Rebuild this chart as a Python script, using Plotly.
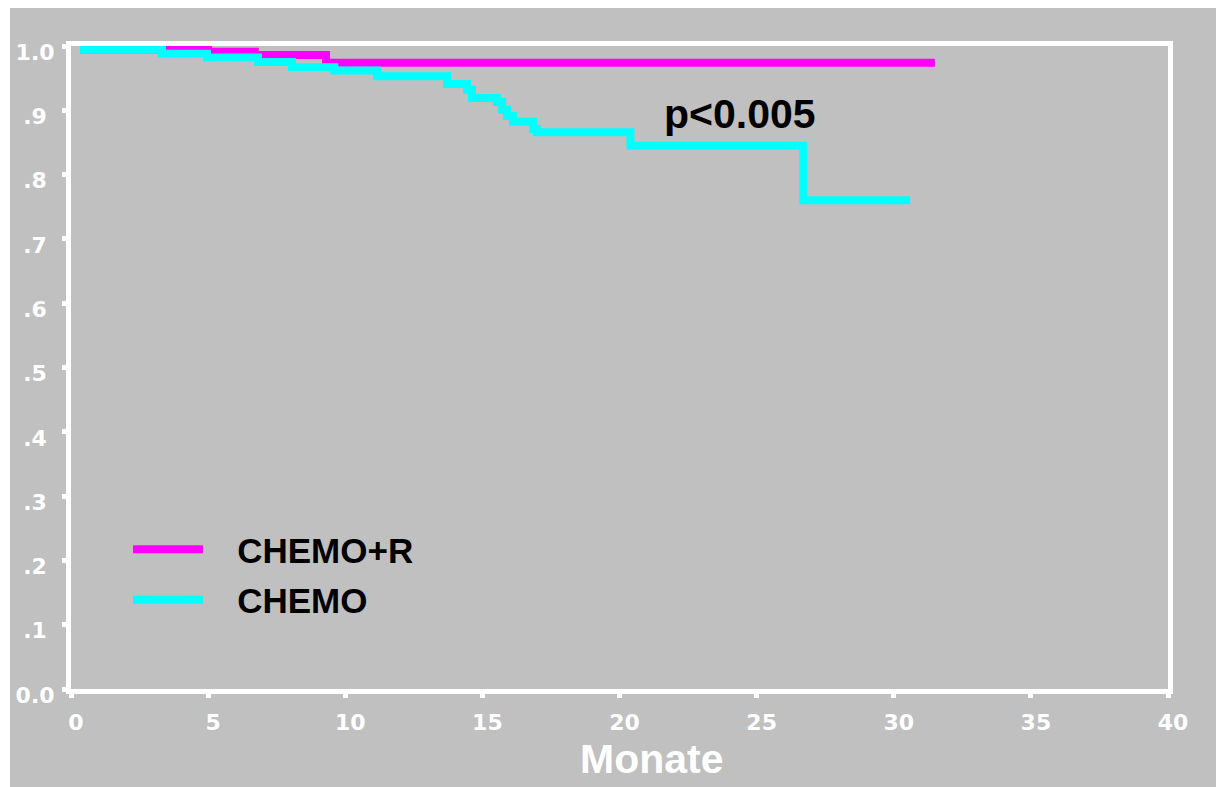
import plotly.graph_objects as go

# Kaplan-Meier step data
chemo_r_t = [0.33, 5.0, 6.7, 9.3, 31.5]
chemo_r_s = [0.995, 0.991, 0.986, 0.974, 0.974]

chemo_t = [0.33, 3.32, 4.96, 6.82, 8.06, 9.6, 11.16, 13.71, 14.44, 14.62,
           15.53, 15.72, 15.90, 16.12, 16.85, 16.99, 20.4, 26.7, 30.6]
chemo_s = [0.995, 0.988, 0.982, 0.975, 0.967, 0.962, 0.953, 0.941, 0.932, 0.919,
           0.913, 0.901, 0.891, 0.882, 0.871, 0.866, 0.845, 0.760, 0.760]

series_names = ["CHEMO+R", "CHEMO"]

x_ticks = [0, 5, 10, 15, 20, 25, 30, 35, 40]
y_ticks = [0.0, 0.1, 0.2, 0.3, 0.4, 0.5, 0.6, 0.7, 0.8, 0.9, 1.0]
y_tick_text = ["0.0", ".1", ".2", ".3", ".4", ".5", ".6", ".7", ".8", ".9", "1.0"]

p_text = "p<0.005"
x_title = "Monate"

GRAY = "#c0c0c0"
FONT = "Liberation Sans, Arial, sans-serif"
TICKFONT = "DejaVu Sans, sans-serif"
NB = "\u00a0"

fig = go.Figure()
fig.add_trace(go.Scatter(x=chemo_r_t, y=chemo_r_s, mode="lines", name=NB * 3 + series_names[0],
                         line=dict(color="#ff00ff", width=8, shape="hv"),
                         legendrank=1, legendgroup="a"))
fig.add_trace(go.Scatter(x=chemo_t, y=chemo_s, mode="lines", name=NB * 3 + series_names[1],
                         line=dict(color="#00ffff", width=8, shape="hv"),
                         legendrank=2, legendgroup="b"))

fig.add_annotation(x=24.4, y=0.894, text=p_text, showarrow=False,
                   font=dict(family=FONT, size=41, color="black", weight="bold"),
                   xanchor="center", yanchor="middle")

W, H = 1216, 787
L, R, T, B = 71, 48, 46, 98
pw, ph = W - L - R, H - T - B

def px2paper_x(px):
    return (px - L) / pw

def py2paper_y(py):
    return (H - B - py) / ph

# x-axis title (centred slightly right of the plot centre, as in the original)
fig.add_annotation(xref="paper", yref="paper", x=px2paper_x(652), y=py2paper_y(784),
                   text=x_title, showarrow=False, xanchor="center", yanchor="bottom",
                   font=dict(family=FONT, size=41, color="white", weight="bold"))

# white page strips around the gray panel
fig.add_shape(type="rect", xref="paper", yref="paper",
              x0=px2paper_x(-5), x1=px2paper_x(10), y0=py2paper_y(800), y1=py2paper_y(-5),
              fillcolor="white", line_width=0, layer="above")
fig.add_shape(type="rect", xref="paper", yref="paper",
              x0=px2paper_x(-5), x1=px2paper_x(1225), y0=py2paper_y(8), y1=py2paper_y(-5),
              fillcolor="white", line_width=0, layer="above")

fig.update_layout(
    width=W, height=H,
    margin=dict(l=L, r=R, t=T, b=B, autoexpand=False),
    paper_bgcolor=GRAY, plot_bgcolor=GRAY,
    font=dict(family=FONT, color="white"),
    showlegend=True,
    legend=dict(x=px2paper_x(128), y=py2paper_y(520), xanchor="left", yanchor="top",
                bgcolor="rgba(0,0,0,0)", itemwidth=70,
                font=dict(family=FONT, size=35, color="black", weight="bold"),
                traceorder="grouped", tracegroupgap=2),
    xaxis=dict(range=[0, 40], tickvals=x_ticks, ticktext=[str(v) for v in x_ticks],
               showgrid=False, zeroline=False, showline=True, linecolor="white", linewidth=5,
               mirror=True, ticks="outside", ticklen=4, tickwidth=5, tickcolor="white",
               tickfont=dict(family=TICKFONT, size=22, color="white", weight="bold"),
               ticklabelshift=5, ticklabelstandoff=6,
               fixedrange=True),
    yaxis=dict(range=[0, 1], tickvals=y_ticks,
               ticktext=[t if len(t) == 3 else t + NB for t in y_tick_text],
               showgrid=False, zeroline=False, showline=True, linecolor="white", linewidth=5,
               mirror=True, ticks="outside", ticklen=4, tickwidth=5, tickcolor="white",
               tickfont=dict(family=TICKFONT, size=22, color="white", weight="bold"),
               ticklabelshift=6, ticklabelstandoff=3,
               fixedrange=True),
)

fig.write_html("out.html", include_plotlyjs=True, config={"displayModeBar": False})
